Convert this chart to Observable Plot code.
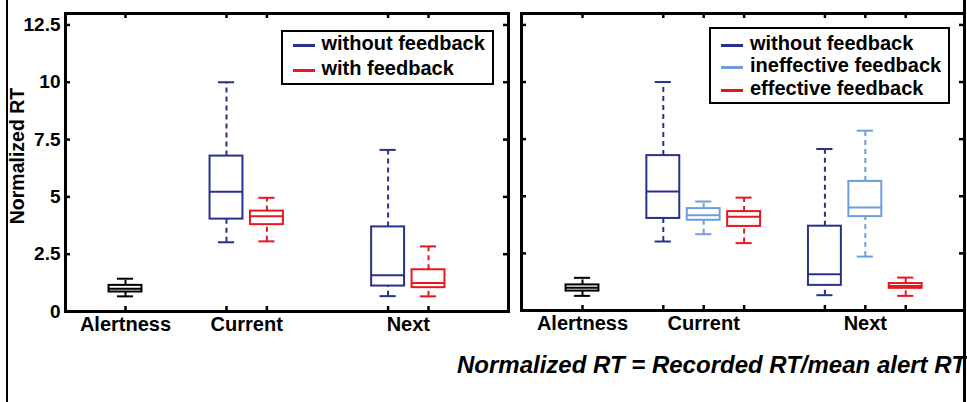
<!DOCTYPE html>
<html>
<head>
<meta charset="utf-8">
<script src="https://cdn.jsdelivr.net/npm/d3@7"></script>
<script src="https://cdn.jsdelivr.net/npm/@observablehq/plot@0.6"></script>
<style>
  html, body { margin: 0; padding: 0; background: #fff; }
  body { width: 967px; height: 402px; position: relative; overflow: hidden; font-family: "Liberation Sans", Arial, sans-serif; }
  .panel { position: absolute; top: 0; }
  .legend { position: absolute; border: 2px solid #000; background: #fff; box-sizing: border-box; }
  .row { position: absolute; left: 0; height: 20px; line-height: 20px; font-size: 20px; font-weight: bold; white-space: nowrap; color: #000; }
  .sw { position: absolute; height: 3px; width: 22px; }
  .border { position: absolute; top: 0; height: 402px; background: #000; }
  #caption { position: absolute; left: 457px; top: 352px; font-size: 24px; line-height: 26px; font-weight: bold; font-style: italic; white-space: nowrap; }
</style>
</head>
<body>
<div id="left" class="panel" style="left:0px"></div>
<div id="right" class="panel" style="left:510px"></div>
<div id="caption">Normalized RT = Recorded RT/mean alert RT</div>
<div class="border" style="left:6px;width:2px"></div>
<div class="border" style="left:963px;width:3px"></div>
<script>
// ---------- data ----------
const seriesNames = ["alertness", "without feedback", "with feedback", "ineffective feedback", "effective feedback"];
const seriesColors = ["#000000", "#27318b", "#e8161e", "#6d9edb", "#e8161e"];

const yTicks = [0, 2.5, 5, 7.5, 10, 12.5];

// left panel
const leftGroups = ["Alertness", "Current", "Next"];
const leftGroupOf = [0, 1, 1, 2, 2];
const leftPos = [1, 2, 2.4, 3.6, 4];
const leftSeries = ["alertness", "without feedback", "with feedback", "without feedback", "with feedback"];
const leftMin = [0.66, 3.02, 3.06, 0.67, 0.66];
const leftQ1 = [0.85, 4.03, 3.79, 1.11, 1.04];
const leftMed = [0.99, 5.22, 4.16, 1.58, 1.24];
const leftQ3 = [1.14, 6.78, 4.38, 3.69, 1.82];
const leftMax = [1.43, 10.0, 4.96, 7.05, 2.84];
const leftLegend = ["without feedback", "with feedback"];

// right panel
const rightGroups = ["Alertness", "Current", "Next"];
const rightGroupOf = [0, 1, 1, 1, 2, 2, 2];
const rightPos = [1, 1.8, 2.2, 2.6, 3.4, 3.8, 4.2];
const rightSeries = ["alertness", "without feedback", "ineffective feedback", "effective feedback", "without feedback", "ineffective feedback", "effective feedback"];
const rightMin = [0.64, 3.02, 3.34, 2.95, 0.67, 2.36, 0.64];
const rightQ1 = [0.85, 4.03, 3.95, 3.68, 1.10, 4.11, 0.97];
const rightMed = [1.0, 5.21, 4.17, 4.10, 1.59, 4.51, 1.07];
const rightQ3 = [1.12, 6.78, 4.46, 4.33, 3.69, 5.65, 1.18];
const rightMax = [1.43, 10.0, 4.77, 4.94, 7.07, 7.87, 1.44];
const rightLegend = ["without feedback", "ineffective feedback", "effective feedback"];

// ---------- build ----------
const BW = 0.163;   // half box width (x units)
const CW = 0.08;    // half cap width

function table(pos, series, mn, q1, med, q3, mx) {
  return pos.map((p, i) => ({pos: p, series: series[i], min: mn[i], q1: q1[i], med: med[i], q3: q3[i], max: mx[i]}));
}
function groupTable(groups, groupOf, pos) {
  return groups.map((g, gi) => {
    const ps = pos.filter((p, i) => groupOf[i] === gi);
    return {name: g, center: d3.mean(ps)};
  });
}

function panel({data, groups, xDomain, width, height, ml, mr, mt, mb, yLabels}) {
  const frameW = width - ml - mr, frameH = height - mt - mb;
  const tickStyle = {stroke: "#000", strokeWidth: 2.5};
  const marks = [
    Plot.rect(data, {x1: d => d.pos - BW, x2: d => d.pos + BW, y1: "q1", y2: "q3", stroke: "series", fill: "none", strokeWidth: 2}),
    Plot.ruleY(data, {y: "med", x1: d => d.pos - BW, x2: d => d.pos + BW, stroke: "series", strokeWidth: 2}),
    Plot.ruleX(data, {x: "pos", y1: "q3", y2: "max", stroke: "series", strokeWidth: 2, strokeDasharray: "5,4"}),
    Plot.ruleX(data, {x: "pos", y1: "min", y2: "q1", stroke: "series", strokeWidth: 2, strokeDasharray: "5,4"}),
    Plot.ruleY(data, {y: "max", x1: d => d.pos - CW, x2: d => d.pos + CW, stroke: "series", strokeWidth: 2}),
    Plot.ruleY(data, {y: "min", x1: d => d.pos - CW, x2: d => d.pos + CW, stroke: "series", strokeWidth: 2}),
    // inward ticks on all four sides
    Plot.tickX(data, {x: "pos", insetTop: frameH - 5, ...tickStyle}),
    Plot.tickX(data, {x: "pos", insetBottom: frameH - 5, ...tickStyle}),
    Plot.tickY(yTicks, {y: d => d, insetRight: frameW - 5, ...tickStyle}),
    Plot.tickY(yTicks, {y: d => d, insetLeft: frameW - 5, ...tickStyle}),
    Plot.frame({stroke: "#000", strokeWidth: 3}),
    Plot.text(groups, {x: "center", text: "name", frameAnchor: "bottom", lineAnchor: "middle", dy: 13, fontSize: 20, fontWeight: "bold", fill: "#000"})
  ];
  if (yLabels) {
    marks.push(Plot.axisY(yTicks, {tickSize: 0, tickPadding: 5, tickFormat: d => String(d), fontSize: 19, fontWeight: "bold", label: null}));
    marks.push(Plot.text(["Normalized RT"], {text: d => d, frameAnchor: "left", textAnchor: "middle", lineAnchor: "middle", rotate: -90, dx: -47.5, dy: -6.5, fontSize: 19.5, fontWeight: "bold", fill: "#000"}));
  }
  return Plot.plot({
    width, height,
    marginLeft: ml, marginRight: mr, marginTop: mt, marginBottom: mb,
    x: {domain: xDomain, axis: null},
    y: {domain: [0, 13], axis: null},
    color: {domain: seriesNames, range: seriesColors},
    style: {fontFamily: "Liberation Sans, Arial, sans-serif", color: "#000", background: "transparent", overflow: "visible"},
    marks
  });
}

function legend(parent, items, box, rowCenters, swX, textX) {
  const el = document.createElement("div");
  el.className = "legend";
  Object.assign(el.style, {left: box[0] + "px", top: box[1] + "px", width: (box[2] - box[0]) + "px", height: (box[3] - box[1]) + "px"});
  items.forEach((name, i) => {
    const color = seriesColors[seriesNames.indexOf(name)];
    const row = document.createElement("div");
    row.className = "row";
    row.style.top = (rowCenters[i] - box[1] - 2 - 10) + "px";
    const sw = document.createElement("span");
    sw.className = "sw";
    Object.assign(sw.style, {left: (swX - box[0] - 2) + "px", top: "11px", background: color});
    const tx = document.createElement("span");
    tx.textContent = name;
    tx.style.position = "absolute";
    tx.style.left = (textX - box[0] - 2) + "px";
    row.appendChild(sw); row.appendChild(tx);
    el.appendChild(row);
  });
  parent.appendChild(el);
}

const leftData = table(leftPos, leftSeries, leftMin, leftQ1, leftMed, leftQ3, leftMax);
const rightData = table(rightPos, rightSeries, rightMin, rightQ1, rightMed, rightQ3, rightMax);

document.getElementById("left").appendChild(panel({
  data: leftData, groups: groupTable(leftGroups, leftGroupOf, leftPos),
  xDomain: [0.406, 4.792], width: 520, height: 345, ml: 65, mr: 12, mt: 13, mb: 34, yLabels: true
}));
document.getElementById("right").appendChild(panel({
  data: rightData, groups: groupTable(rightGroups, rightGroupOf, rightPos),
  xDomain: [0.396, 4.782], width: 457, height: 345, ml: 11, mr: 3, mt: 13, mb: 35, yLabels: false
}));

legend(document.body, leftLegend, [281, 30, 494, 85], [43, 67.5], 293, 321.5);
legend(document.body, rightLegend, [709, 27, 950, 104], [42.5, 64.5, 87.5], 721, 750);
</script>
</body>
</html>
